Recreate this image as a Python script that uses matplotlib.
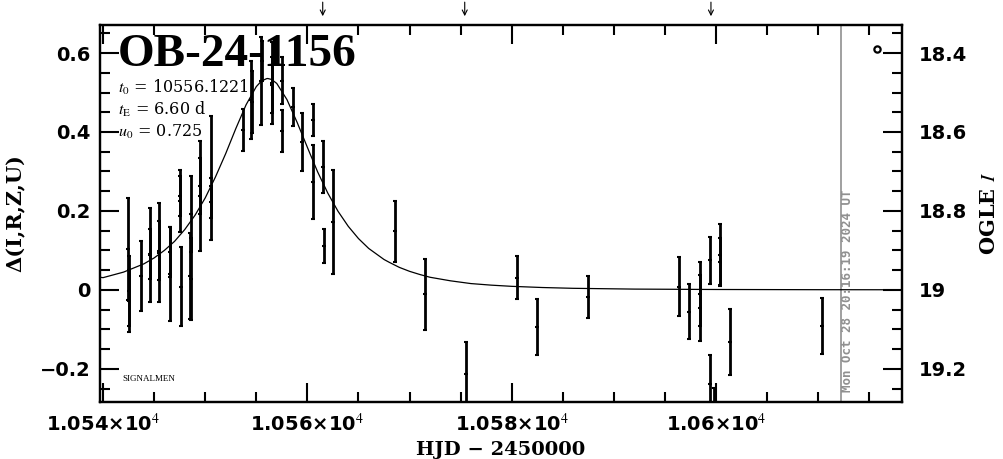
import numpy as np
import matplotlib
matplotlib.use("Agg")
import matplotlib.pyplot as plt
from matplotlib.ticker import MultipleLocator

# ------- Data -------
# photometry: HJD-2450000, delta mag, error
hjd = [10542.4, 10542.5, 10542.5, 10543.7, 10544.6, 10544.6, 10545.5, 10545.5,
       10546.6, 10546.6, 10547.5, 10547.5, 10547.6, 10548.5, 10548.6, 10548.6,
       10549.5, 10549.5, 10550.6, 10550.6, 10553.7, 10554.5, 10554.6, 10555.5,
       10555.6, 10556.5, 10556.5, 10557.5, 10557.5, 10558.6, 10559.5, 10560.5,
       10560.5, 10561.5, 10561.6, 10562.5,
       10568.6, 10571.5, 10575.5, 10580.5, 10582.5, 10587.5, 10596.4, 10597.4,
       10598.4, 10598.4, 10599.4, 10599.4, 10599.8, 10600.4, 10600.4, 10601.4,
       10610.4]
dmag = [0.104, -0.003, -0.028, 0.035, 0.089, 0.091, 0.094, 0.099,
        0.096, 0.041, 0.225, 0.238, 0.008, 0.035, 0.192, 0.028,
        0.238, 0.263, 0.284, 0.223, 0.405, 0.481, 0.476, 0.529,
        0.580, 0.524, 0.519, 0.530, 0.403, 0.463, 0.375, 0.430,
        0.273, 0.311, 0.111, 0.172,
        0.148, -0.011, -0.213, 0.031, -0.094, -0.018, 0.008, -0.055,
        -0.011, -0.046, 0.075, -0.238, -0.318, 0.089, 0.071, -0.132,
        -0.092]
derr = [0.129, 0.089, 0.078, 0.089, 0.119, 0.063, 0.125, 0.075,
        0.064, 0.119, 0.078, 0.050, 0.100, 0.108, 0.096, 0.104,
        0.139, 0.071, 0.157, 0.040, 0.053, 0.099, 0.078, 0.111,
        0.050, 0.105, 0.070, 0.060, 0.053, 0.049, 0.073, 0.041,
        0.093, 0.065, 0.043, 0.132,
        0.077, 0.090, 0.082, 0.055, 0.070, 0.054, 0.075, 0.070,
        0.081, 0.084, 0.059, 0.073, 0.070, 0.077, 0.060, 0.083,
        0.071]

# model light curve (t0 = 10556.1221, tE = 6.60 d, u0 = 0.725)
model_t = [10539.7, 10540, 10542, 10544, 10545, 10546, 10547, 10548, 10549,
           10550, 10551, 10552, 10553, 10554, 10555, 10555.5, 10556, 10556.12,
           10556.5, 10557, 10558, 10559, 10560, 10561, 10562, 10563, 10564,
           10565, 10566, 10567.5, 10568, 10569, 10570, 10571, 10572, 10574,
           10576, 10578, 10580, 10583, 10586, 10589, 10592, 10600, 10610,
           10618.2]
model_d = [0.032, 0.031, 0.045, 0.066, 0.081, 0.100, 0.123, 0.153, 0.189,
           0.233, 0.286, 0.345, 0.409, 0.469, 0.515, 0.529, 0.535, 0.5355,
           0.533, 0.523, 0.482, 0.424, 0.361, 0.299, 0.245, 0.199, 0.161,
           0.130, 0.105, 0.077, 0.070, 0.057, 0.047, 0.039, 0.032, 0.023,
           0.016, 0.012, 0.009, 0.006, 0.004, 0.003, 0.002, 0.001, 0.0005,
           0.0003]

arrow_t = [10561.5, 10575.4, 10599.5]
now_t = 10612.2

xticks = [10540, 10560, 10580, 10600]
xtick_labels = ['1.054×10$^4$', '1.056×10$^4$', '1.058×10$^4$', '1.06×10$^4$']
base_mag = 19.0

xlim = (10539.7, 10618.2)
ylim = (-0.284, 0.671)

plt.rcParams['mathtext.fontset'] = 'stix'

fig = plt.figure(figsize=(10.04, 4.59), dpi=100)
ax = fig.add_axes([100/1004, 57/459, 802/1004, 377/459])

ax.errorbar(hjd, dmag, yerr=derr, fmt='_', color='black', ms=3, mew=1.5,
            elinewidth=2.0, capsize=1.5, capthick=1.5, zorder=3)
ax.plot(model_t, model_d, color='black', lw=0.9, zorder=2)

ax.axvline(now_t, color='#909090', lw=1.2, zorder=1)
ax.text(now_t + 0.7, -0.258, 'Mon Oct 28 20:16:19 2024 UT', rotation=90,
        ha='center', va='bottom', color='#909090', fontsize=9,
        family='DejaVu Sans Mono', weight='bold')

for t in arrow_t:
    ax.annotate('', xy=(t, 1.016), xytext=(t, 1.068),
                xycoords=('data', 'axes fraction'),
                arrowprops=dict(arrowstyle='->', color='black', lw=0.8,
                                mutation_scale=9))

ax.set_xlim(*xlim)
ax.set_ylim(*ylim)

ax.set_xticks(xticks)
ax.set_xticklabels(xtick_labels)
ax.xaxis.set_minor_locator(MultipleLocator(5))
ax.yaxis.set_minor_locator(MultipleLocator(0.05))
ax.set_yticks([-0.2, 0, 0.2, 0.4, 0.6])
ax.set_yticklabels(['−0.2', '0', '0.2', '0.4', '0.6'])

ax.tick_params(which='both', direction='in', top=True, right=False, width=1.5)
ax.tick_params(which='major', length=14)
ax.tick_params(which='minor', length=7)
ax.tick_params(axis='x', labelsize=14, pad=8)
ax.tick_params(axis='y', labelsize=14, pad=7)
for lab in ax.get_xticklabels() + ax.get_yticklabels():
    lab.set_fontweight('bold')
    lab.set_family('DejaVu Sans')
for s in ax.spines.values():
    s.set_linewidth(1.6)

ax.set_xlabel('HJD − 2450000', fontsize=14, family='DejaVu Serif',
              weight='bold', labelpad=4)
ax.set_ylabel('Δ(I,R,Z,U)', fontsize=15, family='DejaVu Serif',
              weight='bold', labelpad=10)

# right magnitude axis
ax2 = ax.twinx()
ax2.set_ylim(base_mag - ylim[0], base_mag - ylim[1])
ax2.set_yticks([18.4, 18.6, 18.8, 19.0, 19.2])
ax2.set_yticklabels(['18.4', '18.6', '18.8', '19', '19.2'])
ax2.yaxis.set_minor_locator(MultipleLocator(0.05))
ax2.tick_params(which='both', direction='in', width=1.5, labelsize=14, pad=12)
ax2.tick_params(which='major', length=14)
ax2.tick_params(which='minor', length=7)
for lab in ax2.get_yticklabels():
    lab.set_fontweight('bold')
ax2.set_ylabel('OGLE $\\mathbf{\\mathit{I}}$', fontsize=15, family='DejaVu Serif',
               weight='bold', labelpad=9)
for s in ax2.spines.values():
    s.set_linewidth(1.6)

# labels inside the panel
ax.text(0.022, 0.92, 'OB-24-1156', transform=ax.transAxes, fontsize=34,
        family='Liberation Serif', weight='bold', va='center', ha='left')
ax.text(0.022, 0.835, '$t_0$ = 10556.1221', transform=ax.transAxes,
        fontsize=11.5, family='DejaVu Serif', va='center')
ax.text(0.022, 0.775, '$t_{\\rm E}$ = 6.60 d', transform=ax.transAxes,
        fontsize=11.5, family='DejaVu Serif', va='center')
ax.text(0.022, 0.715, '$u_0$ = 0.725', transform=ax.transAxes,
        fontsize=11.5, family='DejaVu Serif', va='center')
ax.text(0.028, 0.06, 'SIGNALMEN', transform=ax.transAxes, fontsize=6.5,
        family='Liberation Serif', va='center')
ax.plot([0.969], [0.937], 'o', mfc='none', mec='black', ms=4.5, mew=1.6,
        transform=ax.transAxes)

fig.savefig('out.png', dpi=100)
